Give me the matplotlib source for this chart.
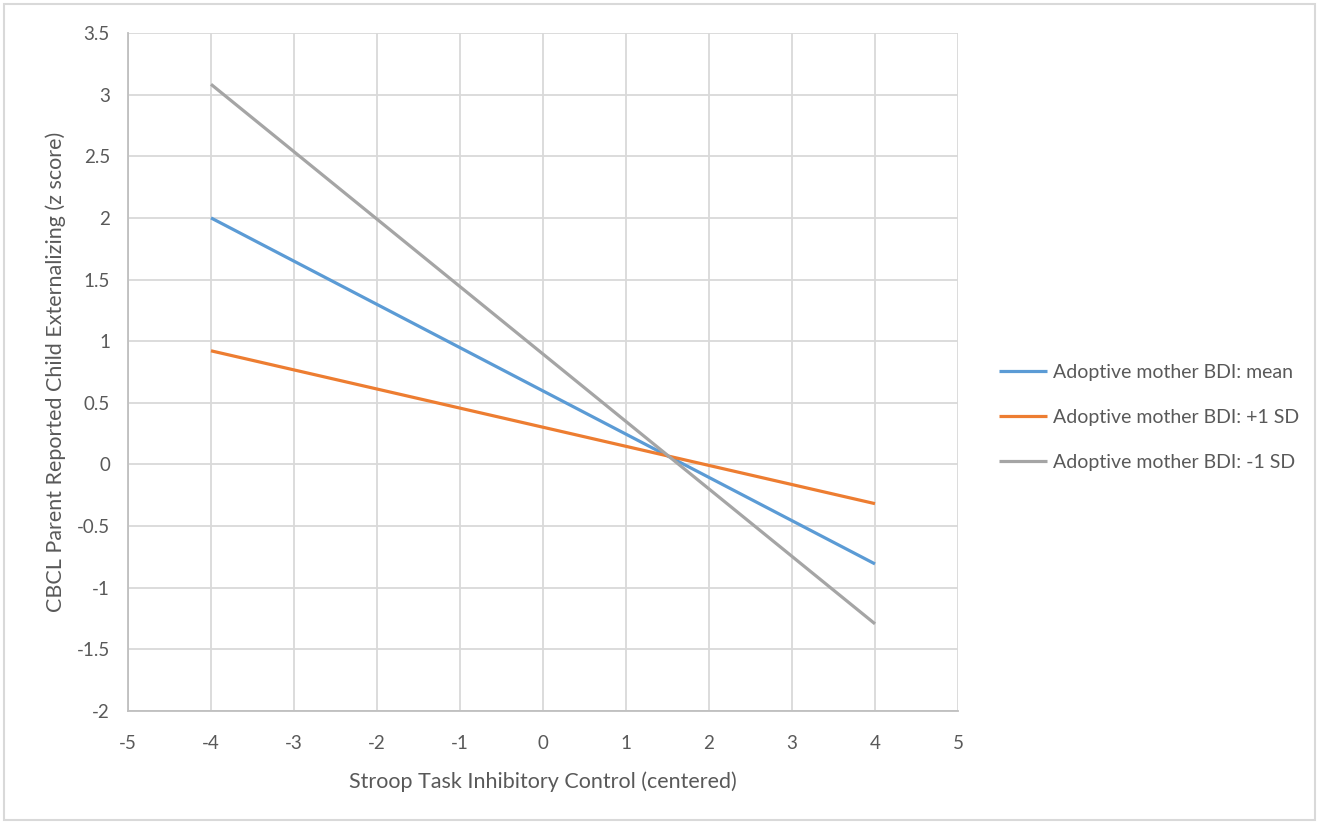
import matplotlib.pyplot as plt
from matplotlib.patches import Rectangle

plt.rcParams['font.family'] = ['Lato', 'DejaVu Sans']
plt.rcParams['axes.unicode_minus'] = False

# Simple slopes: Stroop inhibitory control vs externalizing
x_vals = [-4, 4]
mean_vals = [2.0, -0.807]
plus_sd_vals = [0.922, -0.318]
minus_sd_vals = [3.084, -1.293]
labels = ['Adoptive mother BDI: mean', 'Adoptive mother BDI: +1 SD', 'Adoptive mother BDI: -1 SD']
colors = ['#5B9BD5', '#ED7D31', '#A5A5A5']

text_color = '#595959'

fig = plt.figure(figsize=(13.19, 8.24), dpi=100)
ax = fig.add_axes([128 / 1319, 1 - 711 / 824, (958 - 128) / 1319, (711 - 33) / 824])

for vals, lab, col in zip([mean_vals, plus_sd_vals, minus_sd_vals], labels, colors):
    ax.plot(x_vals, vals, color=col, linewidth=2.3, label=lab, solid_capstyle='butt')

ax.set_xlim(-5, 5)
ax.set_ylim(-2, 3.5)
ax.set_xticks(range(-5, 6))
ax.set_yticks([-2, -1.5, -1, -0.5, 0, 0.5, 1, 1.5, 2, 2.5, 3, 3.5])
ax.set_yticklabels(['-2', '-1.5', '-1', '-0.5', '0', '0.5', '1', '1.5', '2', '2.5', '3', '3.5'])
ax.grid(True, color='#d9d9d9', linewidth=1.3)
ax.set_axisbelow(True)
for side in ['top', 'right']:
    ax.spines[side].set_visible(False)
for side in ['left', 'bottom']:
    ax.spines[side].set_color('#bfbfbf')
    ax.spines[side].set_linewidth(1.3)
ax.tick_params(length=0, labelsize=13.5, labelcolor=text_color)
ax.tick_params(axis='y', pad=13)
ax.tick_params(axis='x', pad=17)

ax.set_xlabel('Stroop Task Inhibitory Control (centered)', fontsize=15.5, color=text_color, labelpad=14)
ax.set_ylabel('CBCL Parent Reported Child Externalizing (z score)', fontsize=15.5, color=text_color, labelpad=8)

ax.legend(loc='upper left', bbox_to_anchor=(993 / 1319, 1 - 358 / 824), bbox_transform=fig.transFigure,
          frameon=False, fontsize=14, labelcolor=text_color, handlelength=2.5, handletextpad=0.3,
          labelspacing=1.45, borderaxespad=0, borderpad=0.3)

# outer chart border
fig.patches.append(Rectangle((4 / 1319, 4 / 824), 1 - 8 / 1319, 1 - 8 / 824, transform=fig.transFigure,
                             fill=False, edgecolor='#d9d9d9', linewidth=1.5))

plt.savefig('out.png', dpi=100)
